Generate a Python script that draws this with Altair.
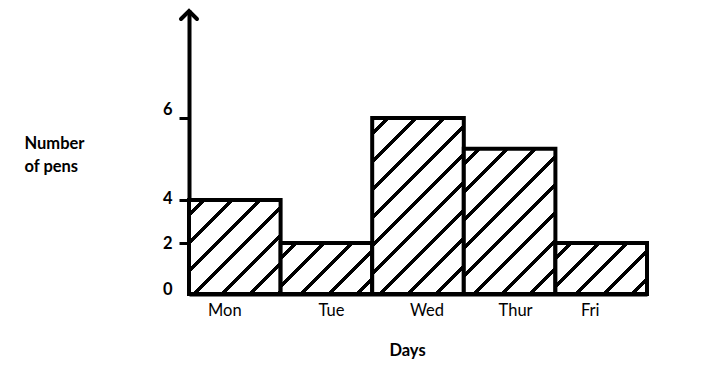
import altair as alt
import pandas as pd
import numpy as np

days = ["Mon", "Tue", "Wed", "Thur", "Fri"]
pens = [4, 2, 6, 5.25, 2]
y_ticks = [0, 2, 4, 6]

df = pd.DataFrame({"day": days, "pens": pens})

W, H = 458, 284
# hand-drawn (piecewise) value axis
y_dom = [0, 2, 4, 6, 9]
y_rng = [284, 233, 190, 108, 0]
band = W / len(days)
FONT = "Lato"
FS = 16.5


def hatch(value, period=28.0, lw=5.0):
    h = H - float(np.interp(value, y_dom, y_rng))
    span = band + h
    p = period / span
    hw = lw / 2 / span
    stops = [alt.GradientStop(offset=0, color="white")]
    c = p * 0.55
    while c - hw < 1:
        a, b = max(c - hw, 0), min(c + hw, 1)
        stops += [alt.GradientStop(offset=a, color="white"),
                  alt.GradientStop(offset=a, color="black"),
                  alt.GradientStop(offset=b, color="black"),
                  alt.GradientStop(offset=b, color="white")]
        c += p
    stops.append(alt.GradientStop(offset=1, color="white"))
    k = span / (band ** 2 + h ** 2)
    return alt.Gradient(gradient="linear", stops=stops,
                        x1=0, y1=0, x2=band * k, y2=h * k)


x_enc = alt.X("day:N", sort=days,
              scale=alt.Scale(paddingInner=0, paddingOuter=0),
              axis=alt.Axis(title="Days", labelAngle=0, ticks=False,
                            domainColor="black", domainWidth=4,
                            labelFont=FONT, labelFontSize=FS, labelColor="black",
                            labelPadding=8,
                            labelOffset={"condition": [
                                {"test": "datum.value == 'Mon'", "value": -10},
                                {"test": "datum.value == 'Tue'", "value": 5},
                                {"test": "datum.value == 'Wed'", "value": 9},
                                {"test": "datum.value == 'Thur'", "value": 6},
                                {"test": "datum.value == 'Fri'", "value": -11}],
                                "value": 0},
                            titleFont=FONT, titleFontSize=FS, titleFontWeight="bold",
                            titleColor="black", titleX=218, titleY=56,
                            titleBaseline="middle"))
y_enc = alt.Y("pens:Q",
              scale=alt.Scale(domain=y_dom, range=y_rng, zero=False, nice=False),
              axis=alt.Axis(values=y_ticks, grid=False,
                            title=["Number", "of pens"], titleAngle=0,
                            titleAlign="left", titleBaseline="top",
                            titleX=-165, titleY=125, titleLineHeight=23,
                            titleFont=FONT, titleFontSize=FS, titleFontWeight="bold",
                            titleColor="black",
                            domainColor="black", domainWidth=4,
                            tickColor="black", tickWidth=3, tickSize=10,
                            tickOpacity={"condition": {"test": "datum.value == 0", "value": 0},
                                         "value": 1},
                            labelFont=FONT, labelFontSize=FS, labelFontWeight="bold",
                            labelColor="black", labelPadding=7,
                            labelOffset={"condition": [
                                {"test": "datum.value == 6", "value": -9},
                                {"test": "datum.value == 0", "value": -5},
                                {"test": "datum.value == 4", "value": -2}],
                                "value": 0}))

layers = []
for d, v in zip(days, pens):
    layers.append(
        alt.Chart(df).transform_filter(alt.datum.day == d)
        .mark_bar(fill=hatch(v), stroke="black", strokeWidth=4, strokeJoin="miter")
        .encode(x=x_enc, y=y_enc)
    )

arrow = alt.Chart(pd.DataFrame({"a": [0]})).mark_point(
    shape="M-1,1L0,0L1,1", filled=False, stroke="black", strokeWidth=4,
    size=256, opacity=1, strokeCap="round"
).encode(x=alt.value(0), y=alt.value(1))

chart = alt.layer(*layers, arrow).properties(
    width=W, height=H,
    background="white",
    autosize=alt.AutoSizeParams(type="none"),
    padding={"left": 181, "top": 2, "right": 50, "bottom": 70},
).configure_view(strokeWidth=0, stroke="transparent")

chart.save("out.html", embed_options={"renderer": "svg", "actions": False})
